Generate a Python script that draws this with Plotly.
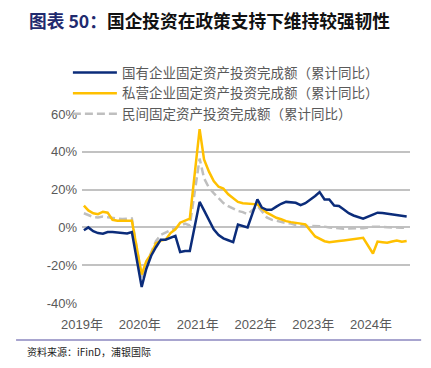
import plotly.graph_objects as go

# ---- data ----
years = [2019, 2020, 2021, 2022, 2023, 2024]
last_month = {2019: 12, 2020: 12, 2021: 12, 2022: 12, 2023: 12, 2024: 9}
dates = [f"{y}-{m:02d}-01" for y in years for m in range(2, last_month[y] + 1)]

soe = [  # 国有企业固定资产投资完成额（累计同比）
    -1.5, 0.0, -2.0, -3.0, -3.3, -2.5, -2.5, -2.8, -3.0, -3.2, -2.5,
    -31.5, -22.0, -15.0, -10.5, -6.5, -6.5, -5.5, -4.5, -13.0, -12.5, -12.5,
    13.5, 9.0, 3.5, -1.0, -4.0, -5.8, -6.8, -7.8, 1.5, 0.8, 0.0,
    14.8, 10.5, 9.3, 9.3, 11.0, 12.5, 13.5, 13.4, 13.0, 11.8, 12.8,
    16.6, 18.7, 14.8, 14.8, 11.6, 11.3, 9.5, 7.5, 6.3, 5.5, 4.6,
    6.8, 7.8, 7.6, 7.2, 6.8, 6.3, 6.0, 5.8,
]
pe = [  # 私营企业固定资产投资完成额（累计同比）
    11.5, 9.0, 7.5, 7.0, 8.3, 7.8, 4.0, 3.5, 3.5, 3.5, 3.5,
    -25.0, -18.0, -14.0, -8.5, -7.0, -6.5, -3.0, -1.0, 2.5, 3.5, 4.6,
    52.0, 36.0, 29.5, 24.5, 21.5, 20.5, 17.5, 15.5, 13.5, 12.8, 12.5,
    12.2, 10.0, 7.8, 6.5, 5.1, 4.3, 3.3, 2.8, 2.3, 1.8, 1.6,
    -4.8, -6.2, -7.3, -7.8, -7.3, -7.2, -6.9, -6.5, -6.2, -5.9, -5.5,
    -13.8, -7.5, -7.8, -8.1, -7.5, -6.9, -7.6, -7.2,
]
private = [  # 民间固定资产投资完成额（累计同比）
    7.5, 6.4, 5.5, 5.3, 5.7, 5.4, 4.9, 4.7, 4.4, 4.5, 4.7,
    -26.4, -18.8, -13.3, -7.3, -3.9, -2.7, -1.5, -0.3, 0.7, 2.0, 1.0,
    36.4, 26.0, 21.0, 18.1, 15.4, 12.9, 11.2, 9.8, 8.7, 8.1, 7.0,
    11.4, 8.4, 5.3, 4.1, 3.5, 2.7, 2.3, 2.0, 1.2, 0.9, 0.9,
    0.8, 0.6, 0.4, -0.1, -0.2, -0.5, -0.7, -0.6, -0.5, -0.5, -0.4,
    0.4, 0.5, 0.3, 0.1, -0.1, -0.2, -0.2, -0.2,
]
names = ["国有企业固定资产投资完成额（累计同比）",
         "私营企业固定资产投资完成额（累计同比）",
         "民间固定资产投资完成额（累计同比）"]
y_ticks = [-40, -20, 0, 20, 40, 60]
y_ticktext = ["-40%", "-20%", "0%", "20%", "40%", "60%"]
x_tickvals = [f"{y}-01-20" for y in years]
x_ticktext = [f"{y}年" for y in years]

CJK = "Noto Sans CJK SC"
NUM = "Liberation Sans, Noto Sans CJK SC"

fig = go.Figure()
fig.add_trace(go.Scatter(x=dates, y=private, mode="lines", name=names[2], legendrank=3,
                         line=dict(color="#BFBFBF", width=2.5, dash="8px,4px")))
fig.add_trace(go.Scatter(x=dates, y=pe, mode="lines", name=names[1], legendrank=2,
                         line=dict(color="#FFC000", width=2.5)))
fig.add_trace(go.Scatter(x=dates, y=soe, mode="lines", name=names[0], legendrank=1,
                         line=dict(color="#0B2C7A", width=2.5)))

fig.update_layout(
    template="none",
    width=423, height=352,
    margin=dict(l=74, r=21, t=106, b=57, autoexpand=False),
    paper_bgcolor="white", plot_bgcolor="white",
    showlegend=True,
    legend=dict(x=-0.043, y=1.30, xanchor="left", yanchor="top", itemwidth=44,
                bgcolor="rgba(0,0,0,0)", font=dict(family=CJK, size=13.5, color="#595959"),
                tracegroupgap=0),
    xaxis=dict(type="date", range=["2019-01-20", "2024-09-22"],
               tickvals=x_tickvals, ticktext=x_ticktext, showgrid=False,
               showline=False, ticks="", zeroline=False, automargin=False,
               ticklabelstandoff=12,
               tickfont=dict(family=NUM, size=13, color="#595959")),
    yaxis=dict(range=[-40, 60], tickmode="array", tickvals=y_ticks, ticktext=y_ticktext,
               showgrid=True, gridcolor="#C2C2C2", gridwidth=1.5,
               zeroline=False, showline=False, ticks="", automargin=False,
               ticklabelstandoff=4,
               tickfont=dict(family=NUM, size=13, color="#595959")),
    annotations=[
        dict(xref="paper", yref="paper", x=-0.168, y=1.497, xanchor="left", yanchor="middle",
             showarrow=False,
             text="<b><span style='color:#1F2A6E'>图表 50：</span>国企投资在政策支持下维持较强韧性</b>",
             font=dict(family=CJK, size=17.7, color="#111111")),
        dict(xref="paper", yref="paper", x=-0.174, y=-0.259, xanchor="left", yanchor="middle",
             showarrow=False, text="资料来源：iFinD，浦银国际",
             font=dict(family=CJK, size=10, color="#222222")),
    ],
    shapes=[
        dict(type="line", xref="paper", yref="paper", x0=-0.201, x1=1.034, y0=-0.196, y1=-0.196,
             line=dict(color="#A8A5CF", width=2)),
    ],
)

fig.write_html("out.html")
